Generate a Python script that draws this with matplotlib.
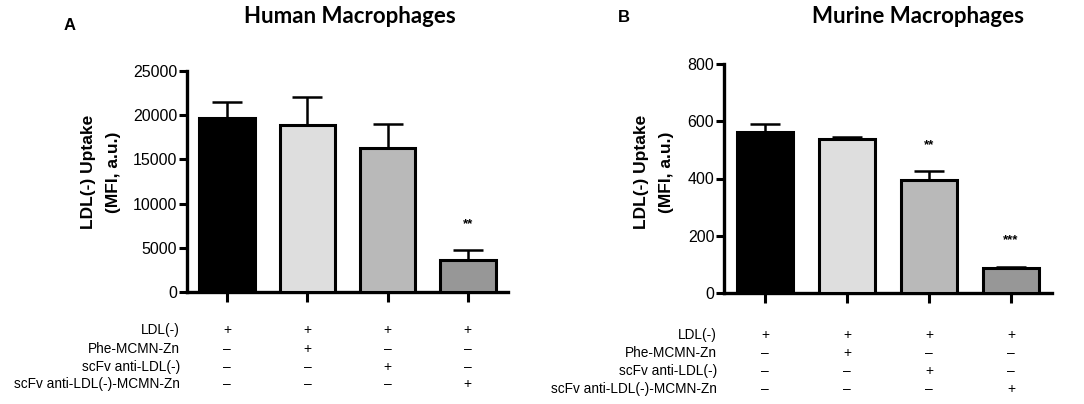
import matplotlib
matplotlib.use("Agg")
import matplotlib.pyplot as plt
import matplotlib.transforms as mtransforms

plt.rcParams['font.family'] = ['Liberation Sans', 'DejaVu Sans']

# data
conditions = ["LDL(-)", "Phe-MCMN-Zn", "scFv anti-LDL(-)", "scFv anti-LDL(-)-MCMN-Zn"]
signs = [["+", "+", "+", "+"],
         ["–", "+", "–", "–"],
         ["–", "–", "+", "–"],
         ["–", "–", "–", "+"]]
bar_colors = ["#000000", "#dedede", "#b9b9b9", "#979797"]

human_mean = [19700, 18900, 16300, 3600]
human_err = [1800, 3200, 2700, 1200]
human_stars = ["", "", "", "**"]

murine_mean = [562, 537, 395, 86]
murine_err = [28, 8, 30, 5]
murine_stars = ["", "", "**", "***"]

fig = plt.figure(figsize=(10.84, 4.04), dpi=100)


def panel(rect, mean, err, stars, ymax, yticks, title, letter, letter_xy, title_x,
          label_x, row_y, row_label_x):
    ax = fig.add_axes(rect)
    x = range(len(mean))
    ax.bar(x, mean, width=0.69, color=bar_colors, edgecolor="black", linewidth=2.2, zorder=3)
    ax.errorbar(x, mean, yerr=[[0] * len(err), err], fmt="none", ecolor="black",
                elinewidth=1.8, capsize=10.5, capthick=1.8, zorder=2)
    for i, s in enumerate(stars):
        if s:
            ax.text(i, mean[i] + err[i] + 0.115 * ymax, s, ha="center", va="center",
                    fontsize=9.5, fontweight="bold")
    ax.set_xlim(-0.5, 3.5)
    ax.set_ylim(0, ymax)
    ax.set_yticks(yticks)
    ax.set_xticks(list(x))
    ax.set_xticklabels([])
    for sp in ["top", "right"]:
        ax.spines[sp].set_visible(False)
    for sp in ["left", "bottom"]:
        ax.spines[sp].set_linewidth(2.4)
    ax.tick_params(axis="both", width=2.2, length=6, labelsize=11.5, pad=1)
    ax.tick_params(axis="x", length=7)
    ax.set_ylabel("LDL(-) Uptake\n(MFI, a.u.)", fontsize=12.5, fontweight="bold",
                  linespacing=1.8)
    ax.yaxis.set_label_coords(label_x, 1 - 172 / 404, transform=fig.transFigure)
    fig.text(title_x, 0.958, title, ha="center", va="center", fontsize=16,
             fontweight="bold", family=["Lato", "DejaVu Sans"])
    fig.text(letter_xy[0], letter_xy[1], letter, ha="center", va="center",
             fontsize=12, fontweight="bold")
    trans = mtransforms.blended_transform_factory(ax.transData, fig.transFigure)
    for r, name in enumerate(conditions):
        yy = 1 - row_y[r] / 404
        fig.text(row_label_x, yy, name, ha="right", va="center", fontsize=9.8)
        for i, s in enumerate(signs[r]):
            ax.text(i, yy, s, transform=trans, ha="center", va="center", fontsize=10)
    return ax


panel([187 / 1084, 1 - 292 / 404, 321 / 1084, 221 / 404], human_mean, human_err,
      human_stars, 25000, [0, 5000, 10000, 15000, 20000, 25000],
      "Human Macrophages", "A", (70 / 1084, 1 - 25 / 404), 350 / 1084,
      121 / 1084, [330, 349, 367, 384], 180 / 1084)

panel([724 / 1084, 1 - 293 / 404, 328 / 1084, 229 / 404], murine_mean, murine_err,
      murine_stars, 800, [0, 200, 400, 600, 800],
      "Murine Macrophages", "B", (624 / 1084, 1 - 17 / 404), 918 / 1084,
      674 / 1084, [335, 353, 371, 389], 717 / 1084)

fig.savefig("out.png", dpi=100)
